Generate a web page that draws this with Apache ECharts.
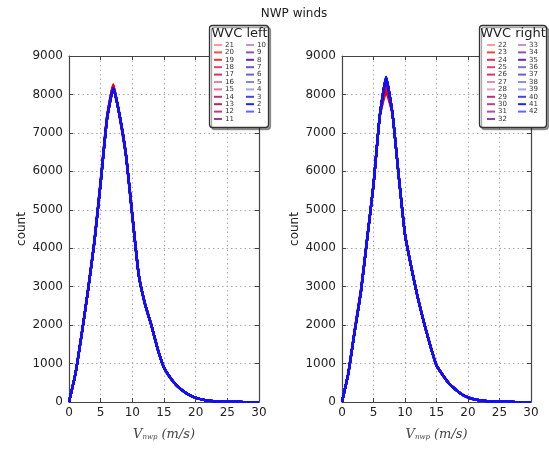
<!DOCTYPE html>
<html><head><meta charset="utf-8">
<script src="https://cdn.jsdelivr.net/npm/echarts@6/dist/echarts.min.js"></script>
<style>html,body{margin:0;padding:0;background:#fff}#c{width:549px;height:451px}</style>
</head><body><div id="c"></div><script>
const FONT = 'DejaVu Sans';
const vNwp = [0,1,2,3,4,5,6,7,8,9,10,11,12,13,14,15,16,17,18,19,20,21,22,23,24,25,26,27,28,29,30];

// Left panel (WVC 21..1), plotted in legend order
const left21 = [0,705,1780,2940,4210,5780,7440,8270,7400,6370,4790,3280,2530,1985,1365,885,622,424,284,177,107,63,34,17,9,4,2,1,0,0,0];
const left20 = [0,735,1775,2915,4185,5750,7410,8250,7415,6395,4825,3300,2560,2010,1390,902,636,433,293,183,112,66,36,19,10,4,2,1,0,0,0];
const left19 = [0,715,1750,2885,4155,5720,7385,8235,7465,6445,4875,3345,2535,1980,1372,888,627,427,287,179,108,64,35,18,9,5,2,1,0,0,0];
const left18 = [0,728,1768,2908,4175,5735,7395,8215,7435,6412,4842,3312,2547,1996,1386,899,633,432,291,181,110,65,35,18,9,4,2,1,0,0,0];
const left17 = [0,722,1755,2898,4145,5712,7372,8205,7442,6428,4858,3328,2556,2004,1381,894,629,429,289,180,110,65,35,18,9,4,2,1,0,0,0];
const left16 = [0,712,1762,2902,4156,5706,7362,8192,7456,6424,4853,3324,2549,2001,1383,896,631,430,290,180,110,65,35,18,9,4,2,1,0,0,0];
const left15 = [0,726,1766,2894,4162,5726,7378,8222,7448,6418,4846,3318,2552,1998,1378,897,630,431,290,180,110,65,35,18,9,4,2,1,0,0,0];
const left14 = [0,718,1758,2912,4168,5744,7392,8228,7426,6404,4834,3306,2542,1994,1376,892,628,428,289,179,109,65,35,18,9,4,2,1,0,0,0];
const left13 = [0,724,1772,2906,4148,5716,7368,8198,7452,6432,4862,3336,2558,2006,1388,899,634,432,291,181,111,66,36,18,9,4,2,1,0,0,0];
const left12 = [0,716,1756,2896,4164,5724,7376,8212,7438,6416,4848,3316,2550,2000,1380,895,630,430,290,180,110,65,35,18,9,4,2,1,0,0,0];
const left11 = [0,721,1761,2901,4152,5702,7356,8186,7452,6422,4852,3322,2551,2001,1381,895,630,430,290,180,110,65,35,18,9,4,2,1,0,0,0];
const left10 = [0,719,1759,2899,4149,5699,7349,8169,7451,6421,4851,3321,2549,1999,1379,894,629,429,289,179,109,65,35,18,9,4,2,1,0,0,0];
const left9  = [0,723,1763,2903,4153,5703,7353,8163,7455,6425,4855,3325,2553,2003,1383,897,632,432,291,181,111,66,35,18,9,4,2,1,0,0,0];
const left8  = [0,717,1757,2897,4147,5697,7347,8157,7445,6415,4845,3315,2547,1997,1377,893,628,428,289,179,109,64,35,18,9,4,2,1,0,0,0];
const left7  = [0,721,1761,2901,4151,5701,7351,8161,7449,6419,4849,3319,2551,2001,1381,895,630,430,290,180,110,65,35,18,9,4,2,1,0,0,0];
const left6  = [0,720,1760,2900,4150,5700,7350,8150,7450,6420,4850,3320,2550,2000,1380,895,630,430,290,180,110,65,35,18,9,4,2,1,0,0,0];
const left5  = [0,722,1762,2902,4152,5702,7352,8172,7452,6422,4852,3322,2552,2002,1382,896,631,431,290,180,110,65,35,18,9,4,2,1,0,0,0];
const left4  = [0,718,1758,2898,4148,5698,7348,8148,7448,6418,4848,3318,2548,1998,1378,894,629,429,289,179,109,65,35,18,9,4,2,1,0,0,0];
const left3  = [0,720,1760,2900,4150,5700,7350,8155,7450,6420,4850,3320,2550,2000,1380,895,630,430,290,180,110,65,35,18,9,4,2,1,0,0,0];
const left2  = [0,721,1761,2901,4151,5701,7351,8166,7451,6421,4851,3321,2551,2001,1381,895,630,430,290,180,110,65,35,18,9,4,2,1,0,0,0];
const left1  = [0,719,1759,2899,4149,5699,7349,8160,7449,6419,4849,3319,2549,1999,1379,895,630,430,290,180,110,65,35,18,9,4,2,1,0,0,0];

// Right panel (WVC 22..42)
const right22 = [0,760,1870,2920,4280,5680,7420,8050,7490,5910,4380,3530,2750,2090,1490,960,705,484,333,202,121,71,40,22,11,5,2,1,0,0,0];
const right23 = [0,755,1860,2910,4270,5670,7440,8100,7510,5890,4360,3510,2740,2080,1480,955,702,482,331,201,120,70,40,22,11,5,2,1,0,0,0];
const right24 = [0,750,1850,2900,4265,5665,7435,8150,7505,5900,4370,3520,2735,2075,1475,952,701,481,330,200,120,70,40,22,11,5,2,1,0,0,0];
const right25 = [0,748,1845,2890,4260,5660,7445,8200,7515,5895,4365,3515,2738,2078,1478,953,702,482,331,201,120,70,40,22,11,5,2,1,0,0,0];
const right26 = [0,745,1840,2885,4258,5658,7448,8250,7518,5890,4360,3510,2736,2076,1476,952,701,481,330,200,120,70,40,22,11,5,2,1,0,0,0];
const right27 = [0,744,1835,2880,4256,5656,7450,8300,7520,5888,4358,3508,2734,2074,1474,951,701,481,330,200,120,70,40,22,11,5,2,1,0,0,0];
const right28 = [0,743,1832,2876,4254,5654,7452,8330,7522,5886,4356,3506,2733,2073,1473,951,700,480,330,200,120,70,40,22,11,5,2,1,0,0,0];
const right29 = [0,742,1830,2872,4253,5653,7451,8350,7521,5885,4355,3505,2732,2072,1472,950,700,480,330,200,120,70,40,22,11,5,2,1,0,0,0];
const right30 = [0,741,1826,2868,4252,5652,7452,8370,7522,5884,4354,3504,2731,2071,1471,950,700,480,330,200,120,70,40,22,11,5,2,1,0,0,0];
const right31 = [0,741,1824,2865,4251,5651,7451,8390,7521,5882,4352,3502,2731,2071,1471,950,700,480,330,200,120,70,40,22,11,5,2,1,0,0,0];
const right32 = [0,740,1822,2862,4250,5650,7450,8400,7520,5881,4351,3501,2730,2070,1470,950,700,480,330,200,120,70,40,22,11,5,2,1,0,0,0];
const right33 = [0,740,1820,2860,4250,5650,7450,8410,7520,5880,4350,3500,2730,2070,1470,950,700,480,330,200,120,70,40,22,11,5,2,1,0,0,0];
const right34 = [0,739,1819,2859,4249,5649,7449,8430,7519,5879,4349,3499,2729,2069,1469,949,699,479,329,199,119,70,40,22,11,5,2,1,0,0,0];
const right35 = [0,741,1821,2861,4251,5651,7451,8440,7521,5881,4351,3501,2731,2071,1471,951,701,481,331,201,121,70,40,22,11,5,2,1,0,0,0];
const right36 = [0,740,1820,2860,4250,5650,7450,8425,7520,5880,4350,3500,2730,2070,1470,950,700,480,330,200,120,70,40,22,11,5,2,1,0,0,0];
const right37 = [0,738,1818,2858,4248,5648,7448,8450,7518,5878,4348,3498,2728,2068,1468,948,698,478,328,198,118,69,39,22,11,5,2,1,0,0,0];
const right38 = [0,742,1822,2862,4252,5652,7452,8435,7522,5882,4352,3502,2732,2072,1472,952,702,482,332,202,122,71,41,22,11,5,2,1,0,0,0];
const right39 = [0,740,1820,2860,4250,5650,7450,8445,7520,5880,4350,3500,2730,2070,1470,950,700,480,330,200,120,70,40,22,11,5,2,1,0,0,0];
const right40 = [0,739,1819,2859,4249,5649,7449,8460,7519,5879,4349,3499,2729,2069,1469,949,699,479,329,199,119,70,40,22,11,5,2,1,0,0,0];
const right41 = [0,741,1821,2861,4251,5651,7451,8420,7521,5881,4351,3501,2731,2071,1471,951,701,481,331,201,121,70,40,22,11,5,2,1,0,0,0];
const right42 = [0,740,1820,2860,4250,5650,7450,8455,7520,5880,4350,3500,2730,2070,1470,950,700,480,330,200,120,70,40,22,11,5,2,1,0,0,0];

const leftNames = ['21','20','19','18','17','16','15','14','13','12','11','10','9','8','7','6','5','4','3','2','1'];
const leftValues = [left21,left20,left19,left18,left17,left16,left15,left14,left13,left12,left11,left10,left9,left8,left7,left6,left5,left4,left3,left2,left1];
const leftColors = ['#ff9a9a','#ff4a4a','#e8304a','#e04468','#e03058','#e084aa','#e470a0','#c43070','#c02060','#b04090','#9040a0',
                    '#c494d8','#9450b8','#6030a8','#7050c8','#6464d8','#8484e8','#a4a4f0','#4040f0','#2020f8','#6464ff'];
const rightNames = ['22','23','24','25','26','27','28','29','30','31','32','33','34','35','36','37','38','39','40','41','42'];
const rightValues = [right22,right23,right24,right25,right26,right27,right28,right29,right30,right31,right32,right33,right34,right35,right36,right37,right38,right39,right40,right41,right42];
const rightColors = ['#ff9a9a','#ff4040','#e03050','#e04070','#e03060','#e090b8','#e4a0c8','#c03070','#c04090','#b050a0','#9040b0',
                     '#c494d8','#9450b8','#6030a8','#8070c8','#6464d8','#9090e8','#a4a4f0','#4040f0','#2020f8','#6464ff'];
// stroke colours of the (overlapping) curves: red group then blue group
const redLine = '#f00000', blueLine = '#1010ff';

const chart = echarts.init(document.getElementById('c'), null, {renderer:'canvas'});
const AX = '#444';

function xAx(grid, top){
  return {
    type:'value', gridIndex:grid, position: top?'top':'bottom', min:0, max:30, interval:5,
    axisLine:{show:true, onZero:false, lineStyle:{color:AX, width:1.2}},
    axisTick:{show:true, inside:true, length:4, lineStyle:{color:AX}},
    axisLabel:{show:!top, fontFamily:FONT, fontSize:12, color:'#222', margin:5},
    splitLine:{show:!top, lineStyle:{type:[1.5,3], color:'#aaa', width:1}},
    name: top ? '' : '{v|V}{s|nwp}{p| (m/s)}',
    nameLocation:'middle', nameGap:26,
    nameTextStyle:{color:'#444', rich:{
      v:{fontFamily:'DejaVu Serif', fontStyle:'italic', fontSize:13, color:'#444'},
      s:{fontFamily:'DejaVu Serif', fontStyle:'italic', fontSize:7, color:'#444', verticalAlign:'bottom', padding:[6,0,0,0]},
      p:{fontFamily:'DejaVu Serif', fontStyle:'italic', fontSize:13, color:'#444'}
    }}
  };
}
function yAx(grid, right){
  return {
    type:'value', gridIndex:grid, position: right?'right':'left', min:0, max:9000, interval:1000,
    axisLine:{show:true, onZero:false, lineStyle:{color:AX, width:1.2}},
    axisTick:{show:true, inside:true, length:4, lineStyle:{color:AX}},
    axisLabel:{show:!right, fontFamily:FONT, fontSize:12, color:'#222', margin:6, formatter:(v)=>String(v)},
    splitLine:{show:!right, lineStyle:{type:[1.5,3], color:'#aaa', width:1}},
    name: right ? '' : 'count', nameLocation:'middle', nameGap:41, nameRotate:90,
    nameTextStyle:{fontFamily:FONT, fontSize:12, color:'#222'}
  };
}

const series = [];
leftNames.forEach((n,i)=>{
  series.push({name:n, type:'line', xAxisIndex:0, yAxisIndex:0, showSymbol:false, symbol:'none', smooth:0.15,
    color:leftColors[i], lineStyle:{width:2.2, color: i<11?redLine:blueLine}, animation:false,
    data: vNwp.map((x,k)=>[x, leftValues[i][k]])});
});
rightNames.forEach((n,i)=>{
  series.push({name:n, type:'line', xAxisIndex:2, yAxisIndex:2, showSymbol:false, symbol:'none', smooth:0.15,
    color:rightColors[i], lineStyle:{width:2.2, color: i<11?redLine:blueLine}, animation:false,
    data: vNwp.map((x,k)=>[x, rightValues[i][k]])});
});

function leg(names, colors, left){
  return {data:names.map((n,i)=>({name:n, itemStyle:{color:colors[i]}})), orient:'vertical', left:left, top:41.5, padding:0,
    itemWidth:8, itemHeight:2, itemGap:0.4, icon:'rect', selectedMode:false, z:10,
    textStyle:{fontFamily:FONT, fontSize:7, lineHeight:7, color:'#333', padding:[0,0,0,-2]}};
}

chart.setOption({
  animation:false,
  backgroundColor:'#fff',
  grid:[{left:69, top:56, width:190, height:346}, {left:342, top:56, width:189, height:346}],
  xAxis:[xAx(0,false), xAx(0,true), xAx(1,false), xAx(1,true)],
  yAxis:[yAx(0,false), yAx(0,true), yAx(1,false), yAx(1,true)],
  legend:[leg(leftNames.slice(0,11),leftColors.slice(0,11),214), leg(leftNames.slice(11),leftColors.slice(11),246),
          leg(rightNames.slice(0,11),rightColors.slice(0,11),487), leg(rightNames.slice(11),rightColors.slice(11),518)],
  graphic:[
    {type:'text', x:294, y:14, z:20, style:{text:'NWP winds', align:'center', verticalAlign:'middle', fontFamily:FONT, fontSize:12, fill:'#222'}},
    {type:'rect', z:5, shape:{x:209.5, y:25.5, width:59, height:102, r:3},
      style:{fill:'#fff', stroke:'#333', lineWidth:1.3, shadowColor:'rgba(0,0,0,0.35)', shadowOffsetX:2, shadowOffsetY:2, shadowBlur:0}},
    {type:'text', x:239.5, y:33.5, z:20, style:{text:'WVC left', align:'center', verticalAlign:'middle', fontFamily:FONT, fontSize:13, fill:'#222'}},
    {type:'rect', z:5, shape:{x:479.5, y:25.5, width:67, height:102, r:3},
      style:{fill:'#fff', stroke:'#333', lineWidth:1.3, shadowColor:'rgba(0,0,0,0.35)', shadowOffsetX:2, shadowOffsetY:2, shadowBlur:0}},
    {type:'text', x:513, y:33.5, z:20, style:{text:'WVC right', align:'center', verticalAlign:'middle', fontFamily:FONT, fontSize:13, fill:'#222'}}
  ],
  series: series
});
</script></body></html>
